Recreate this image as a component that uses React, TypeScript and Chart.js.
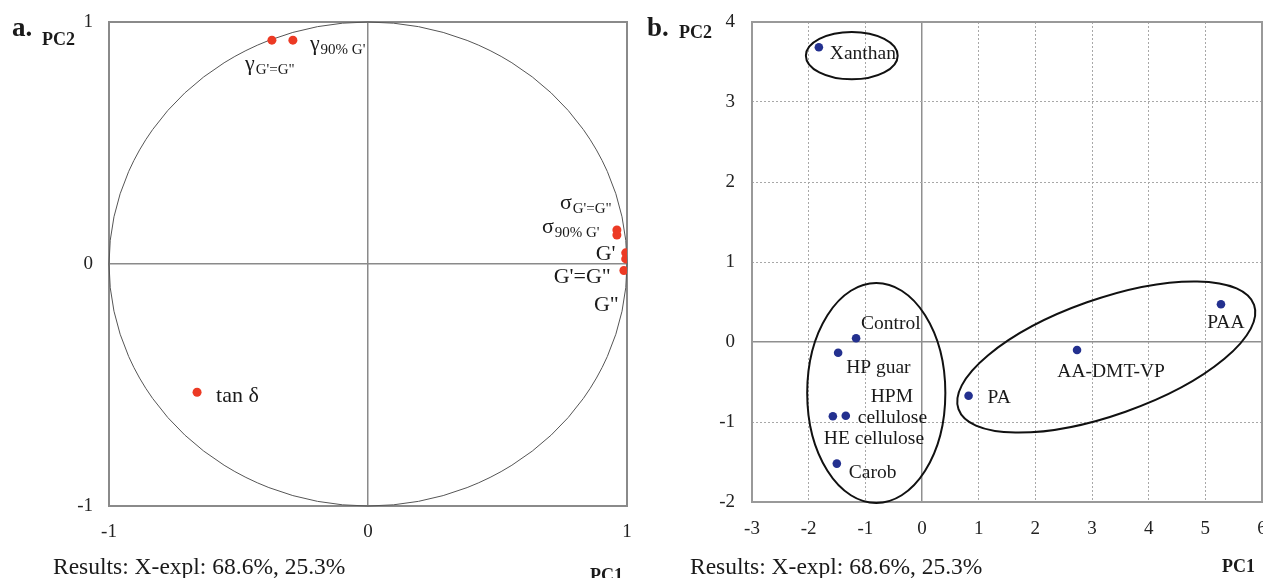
import React, { useEffect, useRef } from "react";
import { Chart, registerables } from "chart.js";

Chart.register(...registerables);

// ---------------- panel a: loadings ----------------
const loadingMain = ["γ", "γ", "σ", "σ", "G'", "G'=G\"", "G\"", "tan δ"];
const loadingSub = ["G'=G\"", "90% G'", "G'=G\"", "90% G'", "", "", "", ""];
const loadingPC1 = [-0.371, -0.29, 0.961, 0.961, 0.995, 0.995, 0.988, -0.66];
const loadingPC2 = [0.925, 0.925, 0.141, 0.12, 0.046, 0.021, -0.027, -0.53];
const loadingTicks = [-1, 0, 1];
const correlationRadius = 1;

// ---------------- panel b: scores ----------------
const sampleNames = [
  "Xanthan",
  "Control",
  "HP guar",
  "HPM cellulose",
  "HE cellulose",
  "Carob",
  "PA",
  "AA-DMT-VP",
  "PAA",
];
const scorePC1 = [-1.82, -1.163, -1.48, -1.345, -1.573, -1.503, 0.822, 2.736, 5.276];
const scorePC2 = [3.684, 0.046, -0.134, -0.921, -0.929, -1.52, -0.671, -0.1, 0.471];
const scoreXTicks = [-3, -2, -1, 0, 1, 2, 3, 4, 5, 6];
const scoreYTicks = [-2, -1, 0, 1, 2, 3, 4];

// groups (ellipses): centre and two conjugate semi-axes, in PC units
const groupCenterPC1 = [-1.239, -0.807, 3.252];
const groupCenterPC2 = [3.579, -0.6375, -0.1875];
const groupAxisA_PC1 = [0.81, 1.219, 2.608];
const groupAxisA_PC2 = [0, 0, 0.652];
const groupAxisB_PC1 = [0, 0, -0.34];
const groupAxisB_PC2 = [0.296, 1.375, 0.684];

const explainedText = "Results: X-expl: 68.6%, 25.3%";

// ---------------- styling / layout ----------------
const SERIF = "'Liberation Serif', 'Times New Roman', serif";
const RED = "#ec3a24";
const BLUE = "#23308f";

const loadingLabelOffsets: number[][] = [
  [-27, 30],
  [17, 10],
  [-57, -20.5],
  [-75, -1.5],
  [-30, 7.5],
  [-72, 24.5],
  [-30, 40],
  [19, 10],
];
const scoreLabelOffsets: number[][][] = [
  [[11, 12]],
  [[5, -9]],
  [[8, 20.5]],
  [
    [25, -14],
    [12, 7.6],
  ],
  [[-9, 28]],
  [[12, 14]],
  [[19, 7.6]],
  [[-19.7, 26.7]],
  [[-13.7, 24]],
];

const framePlugin = (color: string, width: number) => ({
  id: "frame",
  beforeDatasetsDraw(chart: any) {
    const { ctx, chartArea: a } = chart;
    ctx.save();
    ctx.strokeStyle = color;
    ctx.lineWidth = width;
    ctx.strokeRect(a.left, a.top, a.right - a.left, a.bottom - a.top);
    ctx.restore();
  },
});

const circlePlugin = {
  id: "circle",
  beforeDatasetsDraw(chart: any) {
    const { ctx } = chart;
    const xs = chart.scales.x;
    const ys = chart.scales.y;
    const cx = xs.getPixelForValue(0);
    const cy = ys.getPixelForValue(0);
    const rx = xs.getPixelForValue(correlationRadius) - cx;
    const ry = cy - ys.getPixelForValue(correlationRadius);
    ctx.save();
    ctx.strokeStyle = "#555";
    ctx.lineWidth = 1;
    ctx.beginPath();
    ctx.ellipse(cx, cy, rx, ry, 0, 0, Math.PI * 2);
    ctx.stroke();
    ctx.restore();
  },
};

const ellipsePlugin = {
  id: "groups",
  beforeDatasetsDraw(chart: any) {
    const { ctx } = chart;
    const xs = chart.scales.x;
    const ys = chart.scales.y;
    ctx.save();
    ctx.strokeStyle = "#111";
    ctx.lineWidth = 2;
    for (let i = 0; i < groupCenterPC1.length; i++) {
      const cx = xs.getPixelForValue(groupCenterPC1[i]);
      const cy = ys.getPixelForValue(groupCenterPC2[i]);
      const ux = xs.getPixelForValue(groupCenterPC1[i] + groupAxisA_PC1[i]) - cx;
      const uy = ys.getPixelForValue(groupCenterPC2[i] + groupAxisA_PC2[i]) - cy;
      const vx = xs.getPixelForValue(groupCenterPC1[i] + groupAxisB_PC1[i]) - cx;
      const vy = ys.getPixelForValue(groupCenterPC2[i] + groupAxisB_PC2[i]) - cy;
      ctx.save();
      ctx.beginPath();
      ctx.transform(ux, uy, vx, vy, cx, cy);
      ctx.arc(0, 0, 1, 0, Math.PI * 2);
      ctx.restore();
      ctx.stroke();
    }
    ctx.restore();
  },
};

const loadingLabelPlugin = {
  id: "loadingLabels",
  afterDatasetsDraw(chart: any) {
    const { ctx } = chart;
    const xs = chart.scales.x;
    const ys = chart.scales.y;
    ctx.save();
    ctx.fillStyle = "#1a1a1a";
    ctx.textAlign = "left";
    ctx.textBaseline = "alphabetic";
    for (let i = 0; i < loadingMain.length; i++) {
      const px = xs.getPixelForValue(loadingPC1[i]) + loadingLabelOffsets[i][0];
      const py = ys.getPixelForValue(loadingPC2[i]) + loadingLabelOffsets[i][1];
      ctx.font = `22px ${SERIF}`;
      ctx.fillText(loadingMain[i], px, py);
      if (loadingSub[i]) {
        const w = ctx.measureText(loadingMain[i]).width;
        ctx.font = `15px ${SERIF}`;
        ctx.fillText(loadingSub[i], px + w + 1, py + 4);
      }
    }
    ctx.restore();
  },
};

const scoreLabelPlugin = {
  id: "scoreLabels",
  afterDatasetsDraw(chart: any) {
    const { ctx } = chart;
    const xs = chart.scales.x;
    const ys = chart.scales.y;
    ctx.save();
    ctx.fillStyle = "#1a1a1a";
    ctx.textAlign = "left";
    ctx.textBaseline = "alphabetic";
    ctx.font = `19.5px ${SERIF}`;
    for (let i = 0; i < sampleNames.length; i++) {
      const offs = scoreLabelOffsets[i];
      const lines = offs.length > 1 ? sampleNames[i].split(" ") : [sampleNames[i]];
      const bx = xs.getPixelForValue(scorePC1[i]);
      const by = ys.getPixelForValue(scorePC2[i]);
      lines.forEach((t, k) => {
        ctx.fillText(t, bx + offs[k][0], by + offs[k][1]);
      });
    }
    ctx.restore();
  },
};

const tickFont = { family: SERIF, size: 19 };

const fitX = (s: any) => {
  s.height = 40;
  s.paddingLeft = 0;
  s.paddingRight = 0;
  s.paddingTop = 0;
  s.paddingBottom = 0;
};
const fitY = (s: any) => {
  s.width = 40;
  s.paddingLeft = 0;
  s.paddingRight = 0;
  s.paddingTop = 0;
  s.paddingBottom = 0;
};

function useChart(ref: React.RefObject<HTMLCanvasElement | null>, make: () => any) {
  useEffect(() => {
    if (!ref.current) return;
    const chart = new Chart(ref.current, make());
    return () => chart.destroy();
  }, []);
}

function LoadingChart() {
  const ref = useRef<HTMLCanvasElement | null>(null);
  useChart(ref, () => ({
    type: "scatter",
    data: {
      datasets: [
        {
          data: loadingPC1.map((x, i) => ({ x, y: loadingPC2[i] })),
          backgroundColor: RED,
          borderWidth: 0,
          pointRadius: 4.5,
          pointHoverRadius: 4.5,
        },
      ],
    },
    options: {
      responsive: false,
      animation: false,
      devicePixelRatio: 1,
      events: [],
      layout: { padding: { left: 69, top: 22, right: 13, bottom: 32 } },
      plugins: { legend: { display: false }, tooltip: { enabled: false } },
      scales: {
        x: {
          type: "linear",
          min: -1,
          max: 1,
          afterBuildTicks: (s: any) => {
            s.ticks = loadingTicks.map((v) => ({ value: v }));
          },
          afterFit: fitX,
          grid: { drawTicks: false, color: "#8a8a8a", lineWidth: 1.5 },
          border: { display: false },
          ticks: { padding: 15, font: tickFont, color: "#222", maxRotation: 0, autoSkip: false },
        },
        y: {
          type: "linear",
          min: -1,
          max: 1,
          afterBuildTicks: (s: any) => {
            s.ticks = loadingTicks.map((v) => ({ value: v }));
          },
          afterFit: fitY,
          grid: { drawTicks: false, color: "#8a8a8a", lineWidth: 1.5 },
          border: { display: false },
          ticks: { padding: 16, font: tickFont, color: "#222", autoSkip: false },
        },
      },
    },
    plugins: [framePlugin("#8a8a8a", 2), circlePlugin, loadingLabelPlugin],
  }));
  return (
    <canvas
      ref={ref}
      width={640}
      height={578}
      style={{ position: "absolute", left: 0, top: 0, width: 640, height: 578 }}
    />
  );
}

function ScoreChart() {
  const ref = useRef<HTMLCanvasElement | null>(null);
  const isZero = (c: any) => c.tick && c.tick.value === 0;
  useChart(ref, () => ({
    type: "scatter",
    data: {
      datasets: [
        {
          data: scorePC1.map((x, i) => ({ x, y: scorePC2[i] })),
          backgroundColor: BLUE,
          borderWidth: 0,
          pointRadius: 4.3,
          pointHoverRadius: 4.3,
        },
      ],
    },
    options: {
      responsive: false,
      animation: false,
      devicePixelRatio: 1,
      events: [],
      layout: { padding: { left: 72, top: 22, right: 18, bottom: 36 } },
      plugins: { legend: { display: false }, tooltip: { enabled: false } },
      scales: {
        x: {
          type: "linear",
          min: scoreXTicks[0],
          max: scoreXTicks[scoreXTicks.length - 1],
          afterBuildTicks: (s: any) => {
            s.ticks = scoreXTicks.map((v) => ({ value: v }));
          },
          afterFit: fitX,
          grid: {
            drawTicks: false,
            color: (c: any) => (isZero(c) ? "#8f8f8f" : "#a8a8a8"),
            lineWidth: (c: any) => (isZero(c) ? 1.5 : 1),
          },
          border: { display: false, dash: (c: any) => (isZero(c) ? [] : [2, 2]) },
          ticks: { padding: 16, font: tickFont, color: "#222", maxRotation: 0, autoSkip: false },
        },
        y: {
          type: "linear",
          min: scoreYTicks[0],
          max: scoreYTicks[scoreYTicks.length - 1],
          afterBuildTicks: (s: any) => {
            s.ticks = scoreYTicks.map((v) => ({ value: v }));
          },
          afterFit: fitY,
          grid: {
            drawTicks: false,
            color: (c: any) => (isZero(c) ? "#8f8f8f" : "#a8a8a8"),
            lineWidth: (c: any) => (isZero(c) ? 1.5 : 1),
          },
          border: { display: false, dash: (c: any) => (isZero(c) ? [] : [2, 2]) },
          ticks: { padding: 17, font: tickFont, color: "#222", autoSkip: false },
        },
      },
    },
    plugins: [framePlugin("#999", 2), ellipsePlugin, scoreLabelPlugin],
  }));
  return (
    <canvas
      ref={ref}
      width={640}
      height={578}
      style={{ position: "absolute", left: 640, top: 0, width: 640, height: 578 }}
    />
  );
}

function Txt(props: { left: number; baseline: number; size: number; bold?: boolean; children: React.ReactNode }) {
  const { left, baseline, size, bold } = props;
  return (
    <div
      style={{
        position: "absolute",
        left,
        top: baseline - 0.8375 * size,
        fontFamily: SERIF,
        fontSize: size,
        lineHeight: `${size}px`,
        fontWeight: bold ? 700 : 400,
        color: "#1a1a1a",
        whiteSpace: "nowrap",
      }}
    >
      {props.children}
    </div>
  );
}

export default function App() {
  return (
    <div
      style={{
        position: "absolute",
        left: 0,
        top: 0,
        width: 1263,
        height: 578,
        overflow: "hidden",
        background: "#fff",
      }}
    >
      <LoadingChart />
      <ScoreChart />
      <Txt left={12} baseline={37} size={27} bold>
        a.
      </Txt>
      <Txt left={42} baseline={45} size={18} bold>
        PC2
      </Txt>
      <Txt left={647} baseline={37} size={27} bold>
        b.
      </Txt>
      <Txt left={679} baseline={38} size={18} bold>
        PC2
      </Txt>
      <Txt left={53} baseline={575} size={23.5}>
        {explainedText}
      </Txt>
      <Txt left={690} baseline={575} size={23.5}>
        {explainedText}
      </Txt>
      <Txt left={590} baseline={581} size={18} bold>
        PC1
      </Txt>
      <Txt left={1222} baseline={572} size={18} bold>
        PC1
      </Txt>
    </div>
  );
}
